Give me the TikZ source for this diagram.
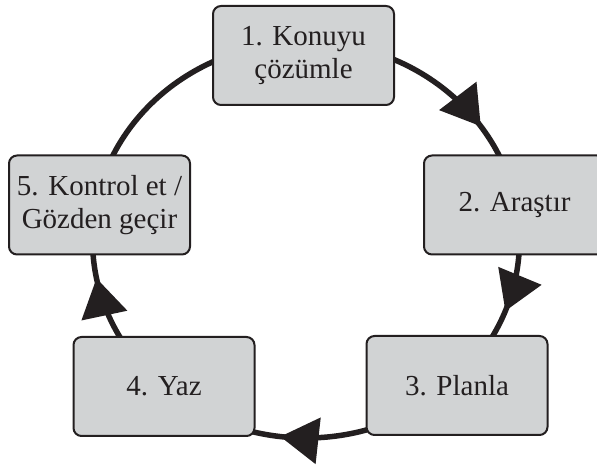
\documentclass[tikz,border=0pt]{standalone}
\usepackage{fontspec}
\setmainfont{Liberation Serif}
\usetikzlibrary{decorations.markings}
\definecolor{boxfill}{HTML}{D1D3D4}
\definecolor{ink}{HTML}{231F20}
\newcommand\arrowhd{\fill[ink] (0pt,0pt) -- (-38pt,23.5pt) -- (-38pt,-23.5pt) -- cycle;}
\tikzset{
  stepbox/.style={draw=ink, line width=2pt, fill=boxfill, rounded corners=8pt,
    minimum width=181pt, minimum height=99pt, align=center, text=ink,
    inner sep=0pt, font=\fontsize{29}{33}\selectfont},
  cyc/.style={draw=ink, line width=5.5pt},
  cycmarks/.style={postaction={decorate}, decoration={markings,
    mark=at position 72.8pt with {\arrowhd},
    mark=at position 349pt with {\arrowhd},
    mark=at position 608pt with {\arrowhd},
    mark=at position 1171pt with {\arrowhd}}}
}
\begin{document}
\begin{tikzpicture}[x=1pt,y=1pt]
\useasboundingbox (0,0) rectangle (597,476);
\coordinate (c) at (306,236);
\path[cyc, cycmarks] (c) ++(213.5pt,0pt) arc[start angle=360, end angle=0, x radius=213.5pt, y radius=198pt];
\node[stepbox] (s1) at (303.5,420.5) {1. Konuyu\\çözümle};
\node[stepbox] (s2) at (514.5,271) {2. Araştır};
\node[stepbox] (s3) at (457,90.5) {3. Planla};
\node[stepbox] (s4) at (164,89.5) {4. Yaz};
\node[stepbox] (s5) at (99.5,271) {5. Kontrol et /\\Gözden geçir};
\end{tikzpicture}
\end{document}
